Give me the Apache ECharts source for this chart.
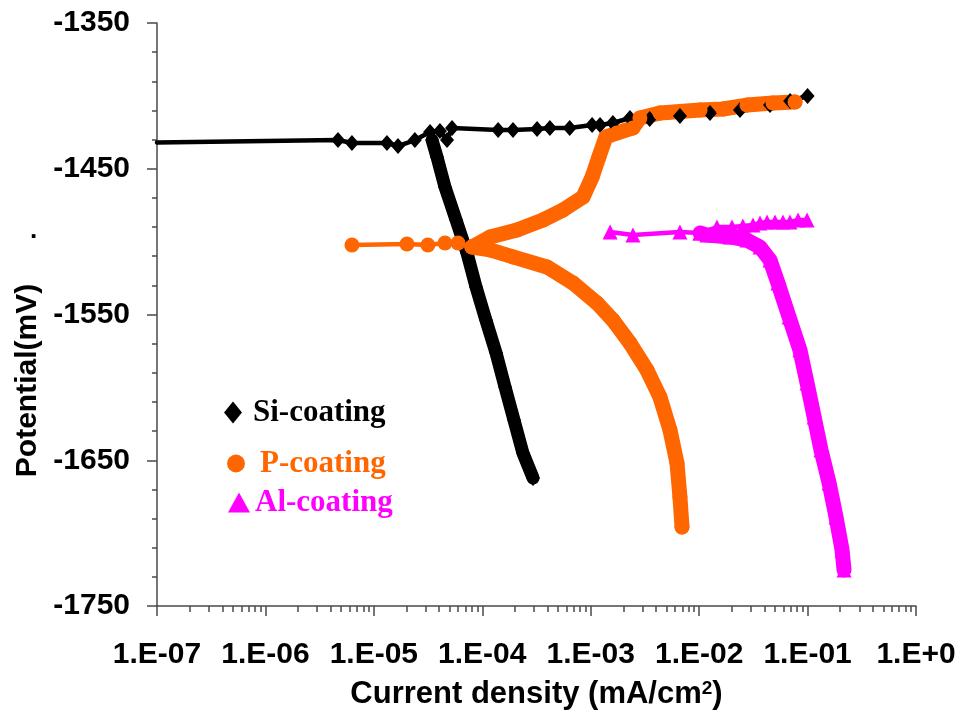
<!DOCTYPE html>
<html><head><meta charset="utf-8">
<script src="https://cdn.jsdelivr.net/npm/echarts@6/dist/echarts.min.js"></script>
<style>html,body{margin:0;padding:0;background:#fff}#c{width:965px;height:720px}</style>
</head><body><div id="c"></div>
<script>
// ---- tick labels ----
const xTickLabels = ['1.E-07','1.E-06','1.E-05','1.E-04','1.E-03','1.E-02','1.E-01','1.E+0'];
const yMajorTicks = [-1750,-1650,-1550,-1450,-1350];
const yMinorTicks = [-1750,-1730,-1710,-1690,-1670,-1650,-1630,-1610,-1590,-1570,-1550,-1530,-1510,-1490,-1470,-1450,-1430,-1410,-1390,-1370,-1350];

// ---- Si-coating ----
const siAnodicCurrent   = [1e-7, 4.67e-6, 6.28e-6, 1.32e-5, 1.67e-5, 2.39e-5, 3.30e-5, 4.07e-5, 4.73e-5, 5.26e-5, 1.40e-4, 1.92e-4, 3.2e-4, 4.2e-4, 6.4e-4, 1.03e-3, 1.22e-3, 1.60e-3, 2.30e-3, 3.5e-3, 6.65e-3, 1.26e-2, 2.38e-2, 4.5e-2, 6.9e-2, 0.1];
const siAnodicPotential = [-1432, -1430.3, -1432.3, -1432.3, -1434.4, -1430.3, -1424.8, -1424.1, -1430.3, -1422.0, -1423.4, -1423.4, -1422.7, -1422.0, -1422.0, -1420.0, -1420.0, -1418.6, -1415.2, -1415.9, -1413.8, -1411.7, -1409.7, -1406.3, -1403.5, -1400.1];
const siCathodicCurrent   = [3.44e-5, 3.82e-5, 4.53e-5, 5.73e-5, 7.23e-5, 8.75e-5, 1.08e-4, 1.34e-4, 1.62e-4, 1.96e-4, 2.37e-4, 2.94e-4];
const siCathodicPotential = [-1430.3, -1441.9, -1462.5, -1485.2, -1507.8, -1531.1, -1553.8, -1576.4, -1599.7, -1622.4, -1645.0, -1662.2];

// ---- P-coating ----
const pLeftCurrent   = [6.28e-6, 2.02e-5, 3.15e-5, 4.53e-5, 5.97e-5, 8.03e-5];
const pLeftPotential = [-1502.3, -1501.6, -1502.3, -1500.9, -1500.9, -1503.7];
const pAnodicCurrent   = [8.03e-5, 1.18e-4, 2.09e-4, 3.63e-4, 5.55e-4, 8.49e-4, 1.03e-3, 1.19e-3, 1.38e-3, 1.74e-3, 2.45e-3, 2.84e-3, 4.35e-3, 1.02e-2, 1.66e-2, 2.76e-2, 4.80e-2, 7.66e-2];
const pAnodicPotential = [-1503.7, -1496.8, -1492.0, -1485.2, -1478.3, -1469.4, -1455.7, -1441.9, -1428.2, -1425.5, -1422.0, -1415.2, -1411.7, -1409.7, -1409.0, -1406.3, -1404.9, -1404.2];
const pCathodicCurrent   = [8.03e-5, 1.18e-4, 1.92e-4, 3.95e-4, 6.87e-4, 1.14e-3, 1.60e-3, 2.30e-3, 3.30e-3, 4.35e-3, 5.38e-3, 6.25e-3, 6.65e-3, 6.95e-3];
const pCathodicPotential = [-1503.7, -1505.7, -1510.5, -1517.4, -1528.4, -1542.1, -1553.8, -1569.6, -1588.1, -1606.6, -1629.2, -1651.9, -1675.2, -1695.8];

// ---- Al-coating ----
const alAnodicCurrent   = [1.51e-3, 2.45e-3, 6.65e-3, 1.02e-2, 1.46e-2, 2.01e-2, 2.53e-2, 3.14e-2, 3.64e-2, 4.23e-2, 5.01e-2, 5.93e-2, 6.88e-2, 8.17e-2, 9.89e-2];
const alAnodicPotential = [-1493.4, -1495.5, -1493.4, -1494.1, -1490.0, -1490.0, -1489.3, -1488.6, -1487.2, -1486.5, -1486.5, -1486.5, -1486.5, -1485.2, -1485.2];
const alCathodicCurrent   = [1.02e-2, 1.18e-2, 1.93e-2, 2.76e-2, 3.64e-2, 4.50e-2, 5.33e-2, 6.75e-2, 8.51e-2, 9.89e-2, 0.115, 0.133, 0.158, 0.183, 0.208, 0.217];
const alCathodicPotential = [-1494.1, -1495.5, -1496.8, -1498.9, -1503.7, -1512.6, -1528.4, -1551.7, -1574.4, -1597.0, -1620.3, -1643.0, -1665.6, -1688.9, -1711.5, -1725.3];

const BLACK = '#000000', ORANGE = '#FF6600', MAGENTA = '#FF00FF';
const SANS = 'Liberation Sans, Arial, sans-serif';
const SERIF = 'Liberation Serif, Times New Roman, serif';

function pairs(xs, ys) { return xs.map((x, i) => [x, ys[i]]); }

function mkSeries(name, xs, ys, color, symbol, symbolSize, lineWidth, firstNoSymbol) {
  const data = pairs(xs, ys).map((p, i) => (firstNoSymbol && i === 0) ? { value: p, symbol: 'none' } : p);
  return {
    type: 'line', name: name, data: data,
    symbol: symbol, symbolSize: symbolSize, showSymbol: true,
    lineStyle: { color: color, width: lineWidth, join: 'round', cap: 'round' },
    itemStyle: { color: color, borderWidth: 0 },
    emphasis: { disabled: true },
    z: 2
  };
}

const chart = echarts.init(document.getElementById('c'), null, { renderer: 'canvas' });
const axisColor = '#4a4a4a';

chart.setOption({
  animation: false,
  backgroundColor: '#ffffff',
  grid: { left: 157, right: 49, top: 23, bottom: 114, containLabel: false },
  xAxis: {
    type: 'log', logBase: 10, min: 1e-7, max: 1,
    name: 'Current density (mA/cm{sup|2})',
    nameLocation: 'middle', nameGap: 73,
    nameTextStyle: {
      fontFamily: SANS, fontSize: 31, fontWeight: 'bold', color: '#000',
      rich: { sup: { fontFamily: SANS, fontSize: 19, fontWeight: 'bold', color: '#000', verticalAlign: 'top' } }
    },
    axisLine: { show: true, onZero: false, lineStyle: { color: axisColor, width: 1.5 } },
    axisTick: { show: true, inside: false, length: 10, lineStyle: { color: axisColor, width: 1.5 } },
    minorTick: { show: true, splitNumber: 9, length: 6, lineStyle: { color: axisColor, width: 1.5 } },
    splitLine: { show: false }, minorSplitLine: { show: false },
    axisLabel: {
      margin: 34, fontFamily: SANS, fontSize: 30, fontWeight: 'bold', color: '#000',
      formatter: function (v) { return xTickLabels[Math.round(Math.log10(v)) + 7]; }
    }
  },
  yAxis: [{
    type: 'value', min: -1750, max: -1350, position: 'left',
    name: 'Potential(mV)', nameLocation: 'middle', nameGap: 114, nameRotate: 90,
    nameTextStyle: { fontFamily: SANS, fontSize: 30, fontWeight: 'bold', color: '#000', padding: [0, 132, 0, 0] },
    axisLine: { show: true, onZero: false, lineStyle: { color: axisColor, width: 1.5 } },
    axisTick: { show: true, inside: false, length: 10, customValues: yMajorTicks, lineStyle: { color: axisColor, width: 1.5 } },
    splitLine: { show: false },
    axisLabel: { margin: 27, customValues: yMajorTicks, fontFamily: SANS, fontSize: 30, fontWeight: 'bold', color: '#000',
      formatter: function (v) { return String(v); } }
  }, {
    type: 'value', min: -1750, max: -1350, position: 'left',
    axisLine: { show: false, onZero: false },
    axisTick: { show: true, inside: false, length: 5, customValues: yMinorTicks, lineStyle: { color: axisColor, width: 1.5 } },
    splitLine: { show: false },
    axisLabel: { show: false }
  }],
  legend: [
    { data: [{ name: 'Si-coating', icon: 'diamond' }], left: 224, top: 397, orient: 'vertical', padding: 0,
      itemWidth: 18, itemHeight: 22, selectedMode: false,
      textStyle: { fontFamily: SERIF, fontSize: 31, fontWeight: 'bold', color: BLACK, padding: [0, 0, 0, 6] } },
    { data: [{ name: 'P-coating', icon: 'circle' }], left: 227, top: 448, orient: 'vertical', padding: 0,
      itemWidth: 18, itemHeight: 18, selectedMode: false,
      textStyle: { fontFamily: SERIF, fontSize: 31, fontWeight: 'bold', color: ORANGE, padding: [0, 0, 0, 10] } },
    { data: [{ name: 'Al-coating', icon: 'triangle' }], left: 228, top: 487, orient: 'vertical', padding: 0,
      itemWidth: 22, itemHeight: 20, selectedMode: false,
      textStyle: { fontFamily: SERIF, fontSize: 31, fontWeight: 'bold', color: MAGENTA, padding: [0, 0, 0, 0] } }
  ],
  graphic: [
    { type: 'text', left: 30, top: 218, style: { text: '.', fontFamily: SANS, fontSize: 26, fontWeight: 'bold', fill: '#000' } }
  ],
  series: [
    mkSeries('Si-coating', siCathodicCurrent, siCathodicPotential, BLACK, 'diamond', [14, 16], 13, false),
    mkSeries('Si-coating', siAnodicCurrent, siAnodicPotential, BLACK, 'diamond', [14, 16], 4.5, true),
    mkSeries('P-coating', pLeftCurrent, pLeftPotential, ORANGE, 'circle', 15, 4.5, false),
    mkSeries('P-coating', pCathodicCurrent, pCathodicPotential, ORANGE, 'circle', 15, 15, false),
    mkSeries('P-coating', pAnodicCurrent, pAnodicPotential, ORANGE, 'circle', 15, 15, false),
    mkSeries('Al-coating', alAnodicCurrent, alAnodicPotential, MAGENTA, 'triangle', 15, 4.5, false),
    mkSeries('Al-coating', alCathodicCurrent, alCathodicPotential, MAGENTA, 'triangle', 15, 15, false)
  ]
});
</script>
</body></html>
